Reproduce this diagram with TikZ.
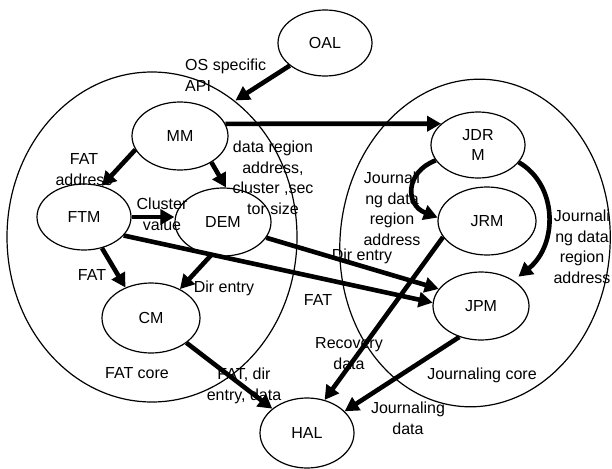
\documentclass[tikz,border=0pt]{standalone}
\usepackage{fontspec}
\setmainfont{Liberation Sans}
\usetikzlibrary{shapes.geometric,arrows.meta}
\begin{document}
\begin{tikzpicture}[x=1pt,y=-1pt,
  mod/.style={draw,ellipse,line width=1.2pt,inner sep=0pt,minimum width=96pt,minimum height=68pt,align=center,font=\fontsize{16}{20}\selectfont},
  region/.style={draw,ellipse,line width=1.2pt,inner sep=0pt},
  arr/.style={line width=4.6pt,-{Triangle[length=14pt,width=15pt]}},
  lbl/.style={align=center,inner sep=0pt,font=\fontsize{16}{21}\selectfont}]
\useasboundingbox (0,0) rectangle (612,468);
% regions
\node[region,minimum width=290pt,minimum height=330pt] (fatcore) at (152,237) {};
\node[region,minimum width=270pt,minimum height=328pt,rotate=-5] (jcore) at (475,243) {};
% modules
\node[mod,minimum width=94pt,minimum height=66pt] (OAL) at (325,43) {OAL};
\node[mod] (MM) at (180,136) {MM};
\node[mod,minimum width=94pt,minimum height=66pt] (FTM) at (84,217) {FTM};
\node[mod] (DEM) at (223,222) {DEM};
\node[mod,minimum width=98pt,minimum height=70pt] (CM) at (151,318) {CM};
\node[mod,minimum width=94pt,minimum height=70pt] (HAL) at (307,433) {HAL};
\node[mod,minimum width=94pt,minimum height=66pt] (JDRM) at (478,145) {JDR\\M};
\node[mod,minimum width=98pt] (JRM) at (487,221) {JRM};
\node[mod] (JPM) at (481,306) {JPM};
% connectors
\draw[arr,shorten >=23pt] (OAL) -- (MM);
\draw[arr] (MM.15) -- (JDRM.150);
\draw[arr] (MM.197) -- (FTM.60);
\draw[arr] (MM.320) -- (DEM.85);
\draw[arr] (FTM.east) -- (FTM.east -| DEM.west);
\draw[arr] (FTM.300) -- (CM.130);
\draw[arr] (DEM.250) -- (CM.45);
\draw[arr] (FTM.335) -- (JPM.176);
\draw[arr] (DEM.340) -- (JPM.158);
\draw[arr] (JDRM.200) .. controls (405,172) and (405,205) .. (JRM.176);
\draw[arr,shorten >=6pt] (JDRM.337) .. controls (558,185) and (558,245) .. (JPM.38);
\draw[arr] (JRM.200) -- (HAL.62);
\draw[arr] (JPM.235) -- (HAL.30);
\draw[arr] (CM.325) -- (HAL.145);
% labels
\node[lbl,align=left,anchor=west] (l1) at (185,75) {OS specific\\API};
\node[lbl] (l2) at (84,170) {FAT\\address};
\node[lbl,font=\fontsize{16}{20.5}\selectfont] (l3) at (273,178) {data region\\address,\\cluster ,sec\\tor size};
\node[lbl] (l4) at (162,214) {Cluster\\value};
\node[lbl] (l5) at (92,275) {FAT};
\node[lbl] (l6) at (224,288) {Dir entry};
\node[lbl] (l7) at (362,256) {Dir entry};
\node[lbl] (l8) at (318,300) {FAT};
\node[lbl,font=\fontsize{16}{20.5}\selectfont] (l9) at (392,209) {Journali\\ng data\\region\\address};
\node[lbl,font=\fontsize{16}{20.5}\selectfont] (l10) at (582,247) {Journali\\ng data\\region\\address};
\node[lbl] (l11) at (349,354) {Recovery\\data};
\node[lbl] (l12) at (482,375) {Journaling core};
\node[lbl] (l13) at (408,418) {Journaling\\data};
\node[lbl] (l14) at (137,373) {FAT core};
\node[lbl] (l15) at (244,386) {FAT, dir\\entry, data};
\end{tikzpicture}
\end{document}
